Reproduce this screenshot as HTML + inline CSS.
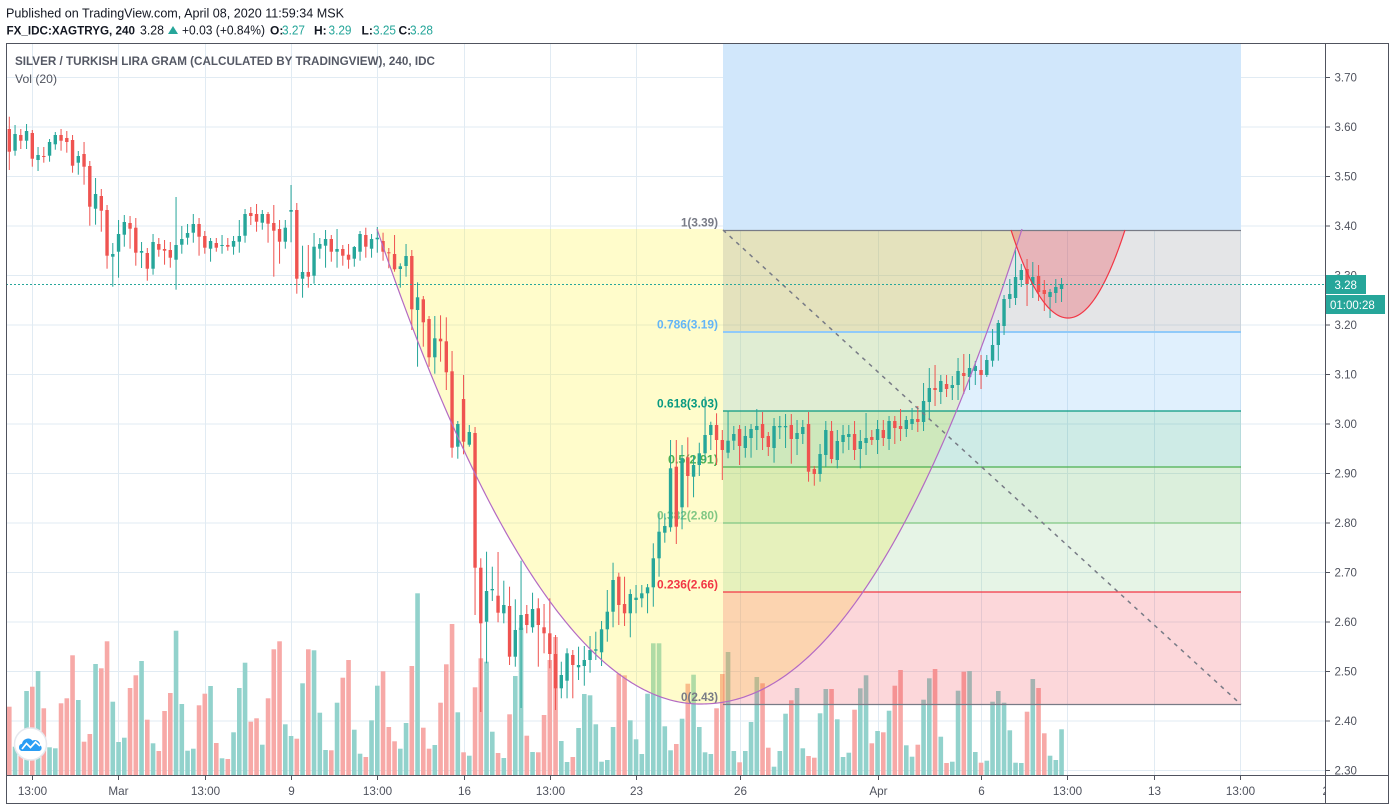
<!DOCTYPE html>
<html><head><meta charset="utf-8">
<style>
html,body{margin:0;padding:0;background:#fff;overflow:hidden;}
svg{display:block;font-family:"Liberation Sans",sans-serif;}
</style></head><body>
<svg id="s" width="1396" height="811" viewBox="0 0 1396 811" xmlns="http://www.w3.org/2000/svg">
<defs>
<clipPath id="pane"><rect x="6.5" y="43.5" width="1319" height="732"/></clipPath>
<clipPath id="tax"><rect x="6.5" y="776" width="1319" height="28"/></clipPath>
</defs>
<rect width="1396" height="811" fill="#fff"/>

<!-- header -->
<text x="6" y="17.5" font-size="12.5" fill="#131722" textLength="338" lengthAdjust="spacingAndGlyphs">Published on TradingView.com, April 08, 2020 11:59:34 MSK</text>
<text x="6.5" y="34.3" font-size="12" font-weight="bold" fill="#131722" textLength="128.5" lengthAdjust="spacingAndGlyphs">FX_IDC:XAGTRYG, 240</text>
<text x="140" y="34.3" font-size="12.5" fill="#131722" textLength="24" lengthAdjust="spacingAndGlyphs">3.28</text>
<polygon points="168,34 178,34 173,26" fill="#26a69a"/>
<text x="182" y="34.3" font-size="12.5" fill="#131722" textLength="83" lengthAdjust="spacingAndGlyphs">+0.03 (+0.84%)</text>
<text x="270" y="34.3" font-size="12" font-weight="bold" fill="#131722">O:</text>
<text x="282" y="34.3" font-size="12.5" fill="#26a69a" textLength="23" lengthAdjust="spacingAndGlyphs">3.27</text>
<text x="314" y="34.3" font-size="12" font-weight="bold" fill="#131722">H:</text>
<text x="328.5" y="34.3" font-size="12.5" fill="#26a69a" textLength="23" lengthAdjust="spacingAndGlyphs">3.29</text>
<text x="361.5" y="34.3" font-size="12" font-weight="bold" fill="#131722">L:</text>
<text x="373" y="34.3" font-size="12.5" fill="#26a69a" textLength="23" lengthAdjust="spacingAndGlyphs">3.25</text>
<text x="398.5" y="34.3" font-size="12" font-weight="bold" fill="#131722">C:</text>
<text x="410" y="34.3" font-size="12.5" fill="#26a69a" textLength="23" lengthAdjust="spacingAndGlyphs">3.28</text>

<!-- grid -->
<g stroke="#e1ebf3" stroke-width="1" clip-path="url(#pane)">
<line x1="6" x2="1325" y1="77.5" y2="77.5"/>
<line x1="6" x2="1325" y1="127" y2="127"/>
<line x1="6" x2="1325" y1="176.5" y2="176.5"/>
<line x1="6" x2="1325" y1="226" y2="226"/>
<line x1="6" x2="1325" y1="275.5" y2="275.5"/>
<line x1="6" x2="1325" y1="325" y2="325"/>
<line x1="6" x2="1325" y1="374.5" y2="374.5"/>
<line x1="6" x2="1325" y1="424" y2="424"/>
<line x1="6" x2="1325" y1="473.5" y2="473.5"/>
<line x1="6" x2="1325" y1="523" y2="523"/>
<line x1="6" x2="1325" y1="572.5" y2="572.5"/>
<line x1="6" x2="1325" y1="622" y2="622"/>
<line x1="6" x2="1325" y1="671.5" y2="671.5"/>
<line x1="6" x2="1325" y1="721" y2="721"/>
<line x1="6" x2="1325" y1="770.5" y2="770.5"/>
<line y1="43" y2="775" x1="32.5" x2="32.5"/>
<line y1="43" y2="775" x1="118.5" x2="118.5"/>
<line y1="43" y2="775" x1="205.5" x2="205.5"/>
<line y1="43" y2="775" x1="291.5" x2="291.5"/>
<line y1="43" y2="775" x1="377.5" x2="377.5"/>
<line y1="43" y2="775" x1="464.5" x2="464.5"/>
<line y1="43" y2="775" x1="550.5" x2="550.5"/>
<line y1="43" y2="775" x1="636.5" x2="636.5"/>
<line y1="43" y2="775" x1="740.5" x2="740.5"/>
<line y1="43" y2="775" x1="878.5" x2="878.5"/>
<line y1="43" y2="775" x1="981.5" x2="981.5"/>
<line y1="43" y2="775" x1="1067.5" x2="1067.5"/>
<line y1="43" y2="775" x1="1154.5" x2="1154.5"/>
<line y1="43" y2="775" x1="1240.5" x2="1240.5"/>
</g>

<!-- title legend -->
<text x="15" y="65" font-size="11.6" font-weight="bold" fill="#555965" textLength="420" lengthAdjust="spacingAndGlyphs">SILVER / TURKISH LIRA GRAM (CALCULATED BY TRADINGVIEW), 240, IDC</text>
<text x="15" y="83" font-size="12" fill="#50535e" textLength="42" lengthAdjust="spacingAndGlyphs">Vol (20)</text>

<g id="vol" clip-path="url(#pane)"></g>

<g clip-path="url(#pane)">
<path id="yfill" d="" fill="rgba(255,245,59,0.265)"/>
<rect x="723" y="43" width="518" height="187" fill="#d1e7fb"/>
<rect x="723" y="230" width="518" height="102" fill="rgba(120,123,134,0.2)"/>
<rect x="723" y="332" width="518" height="79" fill="rgba(100,181,246,0.2)"/>
<rect x="723" y="411" width="518" height="56" fill="rgba(8,153,129,0.2)"/>
<rect x="723" y="467" width="518" height="56" fill="rgba(76,175,80,0.2)"/>
<rect x="723" y="523" width="518" height="69" fill="rgba(129,199,132,0.2)"/>
<rect x="723" y="592" width="518" height="112.5" fill="rgba(242,54,69,0.2)"/>
<path id="rfill" d="" fill="rgba(242,54,69,0.28)"/>
<line x1="723" x2="1241" y1="230.5" y2="230.5" stroke="#787b86" stroke-width="1.2"/>
<line x1="723" x2="1241" y1="332" y2="332" stroke="#90caf9" stroke-width="2"/>
<line x1="723" x2="1241" y1="411" y2="411" stroke="#089981" stroke-width="1.2"/>
<line x1="723" x2="1241" y1="467" y2="467" stroke="#4caf50" stroke-width="1.2"/>
<line x1="723" x2="1241" y1="523" y2="523" stroke="#81c784" stroke-width="1.2"/>
<line x1="723" x2="1241" y1="592" y2="592" stroke="#f23645" stroke-width="1.2"/>
<line x1="723" x2="1241" y1="704.5" y2="704.5" stroke="#787b86" stroke-width="1.2"/>
</g>

<g font-size="11.5" font-weight="bold" text-anchor="end">
<text x="718" y="226.5" fill="#787b86" textLength="37" lengthAdjust="spacingAndGlyphs">1(3.39)</text>
<text x="718" y="328.5" fill="#64b5f6" textLength="61" lengthAdjust="spacingAndGlyphs">0.786(3.19)</text>
<text x="718" y="407.5" fill="#089981" textLength="61" lengthAdjust="spacingAndGlyphs">0.618(3.03)</text>
<text x="718" y="463.5" fill="#4caf50" textLength="50" lengthAdjust="spacingAndGlyphs">0.5(2.91)</text>
<text x="718" y="519.5" fill="#81c784" textLength="61" lengthAdjust="spacingAndGlyphs">0.382(2.80)</text>
<text x="718" y="588.5" fill="#f23645" textLength="61" lengthAdjust="spacingAndGlyphs">0.236(2.66)</text>
<text x="718" y="701" fill="#787b86" textLength="37" lengthAdjust="spacingAndGlyphs">0(2.43)</text>
</g>

<g id="candles" clip-path="url(#pane)"></g>

<g clip-path="url(#pane)">
<path id="ystroke" d="" fill="none" stroke="#b36ac4" stroke-width="1.2"/>
<path id="rstroke" d="" fill="none" stroke="#f23645" stroke-width="1.2"/>
<line x1="723" y1="230" x2="1241" y2="704.5" stroke="#787b86" stroke-width="1.5" stroke-dasharray="4,5"/>
<line x1="6" x2="1325" y1="284.5" y2="284.5" stroke="#26a69a" stroke-width="1" stroke-dasharray="2,2"/>
</g>

<!-- logo -->
<circle cx="30.5" cy="744" r="16" fill="#fff" stroke="#e6e8ee" stroke-width="1.5"/>
<path d="M21.5,751 a3.8,3.8 0 0 1 0.5,-7.3 a6,6 0 0 1 10.5,-3 a5,5 0 0 1 7.5,4.5 a3.2,3.2 0 0 1 -0.5,5.8 Z" fill="#2a9df4"/>
<polyline points="22,749 26.5,743.5 30.5,747.5 35.5,742 40,746" fill="none" stroke="#fff" stroke-width="1.7"/>

<!-- frame -->
<g stroke="#50535e" stroke-width="1" fill="none">
<rect x="6.5" y="43.5" width="1382" height="760"/>
<line x1="1325.5" x2="1325.5" y1="43.5" y2="803.5"/>
<line x1="6.5" x2="1388.5" y1="775.5" y2="775.5"/>
</g>

<!-- price axis -->
<g stroke="#50535e" stroke-width="1">
<line x1="1325" x2="1330" y1="77.5" y2="77.5"/>
<line x1="1325" x2="1330" y1="127" y2="127"/>
<line x1="1325" x2="1330" y1="176.5" y2="176.5"/>
<line x1="1325" x2="1330" y1="226" y2="226"/>
<line x1="1325" x2="1330" y1="275.5" y2="275.5"/>
<line x1="1325" x2="1330" y1="325" y2="325"/>
<line x1="1325" x2="1330" y1="374.5" y2="374.5"/>
<line x1="1325" x2="1330" y1="424" y2="424"/>
<line x1="1325" x2="1330" y1="473.5" y2="473.5"/>
<line x1="1325" x2="1330" y1="523" y2="523"/>
<line x1="1325" x2="1330" y1="572.5" y2="572.5"/>
<line x1="1325" x2="1330" y1="622" y2="622"/>
<line x1="1325" x2="1330" y1="671.5" y2="671.5"/>
<line x1="1325" x2="1330" y1="721" y2="721"/>
<line x1="1325" x2="1330" y1="770.5" y2="770.5"/>
</g>
<g font-size="11.5" fill="#50535e">
<text x="1334.5" y="81.5">3.70</text>
<text x="1334.5" y="131">3.60</text>
<text x="1334.5" y="180.5">3.50</text>
<text x="1334.5" y="230">3.40</text>
<text x="1334.5" y="279.5">3.30</text>
<text x="1334.5" y="329">3.20</text>
<text x="1334.5" y="378.5">3.10</text>
<text x="1334.5" y="428">3.00</text>
<text x="1334.5" y="477.5">2.90</text>
<text x="1334.5" y="527">2.80</text>
<text x="1334.5" y="576.5">2.70</text>
<text x="1334.5" y="626">2.60</text>
<text x="1334.5" y="675.5">2.50</text>
<text x="1334.5" y="725">2.40</text>
<text x="1334.5" y="774.5">2.30</text>
</g>
<rect x="1326" y="275" width="40" height="19" fill="#26a69a"/>
<text x="1334.5" y="289" font-size="11.5" fill="#fff">3.28</text>
<rect x="1326" y="295" width="59" height="19" fill="#26a69a"/>
<text x="1330" y="309" font-size="11.5" fill="#fff">01:00:28</text>

<!-- time axis -->
<g stroke="#50535e" stroke-width="1">
<line x1="32.5" x2="32.5" y1="775" y2="780"/>
<line x1="118.5" x2="118.5" y1="775" y2="780"/>
<line x1="205.5" x2="205.5" y1="775" y2="780"/>
<line x1="291.5" x2="291.5" y1="775" y2="780"/>
<line x1="377.5" x2="377.5" y1="775" y2="780"/>
<line x1="464.5" x2="464.5" y1="775" y2="780"/>
<line x1="550.5" x2="550.5" y1="775" y2="780"/>
<line x1="636.5" x2="636.5" y1="775" y2="780"/>
<line x1="740.5" x2="740.5" y1="775" y2="780"/>
<line x1="878.5" x2="878.5" y1="775" y2="780"/>
<line x1="981.5" x2="981.5" y1="775" y2="780"/>
<line x1="1067.5" x2="1067.5" y1="775" y2="780"/>
<line x1="1154.5" x2="1154.5" y1="775" y2="780"/>
<line x1="1240.5" x2="1240.5" y1="775" y2="780"/>
</g>
<g font-size="11.7" fill="#50535e" text-anchor="middle" clip-path="url(#tax)">
<text x="32.5" y="795">13:00</text>
<text x="118.5" y="795">Mar</text>
<text x="205.5" y="795">13:00</text>
<text x="291.5" y="795">9</text>
<text x="377.5" y="795">13:00</text>
<text x="464.5" y="795">16</text>
<text x="550.5" y="795">13:00</text>
<text x="636.5" y="795">23</text>
<text x="740.5" y="795">26</text>
<text x="878.5" y="795">Apr</text>
<text x="981.5" y="795">6</text>
<text x="1067.5" y="795">13:00</text>
<text x="1154.5" y="795">13</text>
<text x="1240.5" y="795">13:00</text>
<text x="1329" y="795">20</text>
</g>
</svg>
<script>
(function(){
var C=[['r',129,151.7,116.7,170],['g',134,150.7,125,155.7],['r',135,140.7,129,149],['g',131,140.7,124,149],['r',133,158.7,130,166.7],['g',155,160,147,171],['r',156,157,147,162.7],['g',142,155.7,139,161.7],['g',135,144.3,132,149.7],['r',135,140.7,129,150.7],
['r',138,142,131,152.7],['r',140,165.7,135,172.7],['g',156,162.7,151,174.7],['r',154,166.7,142,184.7],['r',166,206.7,161,225.7],['g',194,208.7,178,224.7],['r',196,210.7,189,231.7],['r',210,255.7,205,268.7],['g',254,256.7,243,286.7],['g',234,251.7,220,277.7],
['g',222,234.7,215,246.7],['r',223,228.7,216,248.7],['r',227.7,252.7,218,265.7],['g',251,252.7,242,268],['r',253,268.7,248,280.7],['g',242,268.7,234,274.7],['r',244,249.7,238,256.7],['r',249,250.7,240,264.7],['r',250,257.7,242,267.7],['g',245,259.7,197,289.7],
['g',239,244.7,226,253.7],['g',233,237.7,224,244.7],['g',224,232.7,214,242.7],['r',224,236.7,218,255.7],['r',236,247.7,231,253.7],['g',241,248.7,238,261.7],['r',243,247.7,238,251.7],['g',245,245.7,235,253.7],['r',245,246.7,238,250.7],['g',241,246.7,236,254.7],
['g',236,241.7,220,252.7],['g',214,235.7,209,242.7],['r',213,216,207,225],['r',214,221.7,204,231.7],['g',214,222.7,210,229.7],['r',214,223.7,212,242.7],['r',223,230.7,205,276.7],['r',229,241.7,220,263.7],['g',227.7,241.7,220,248.7],['g',210,211.7,185,242.3],
['r',210,278.7,203,293.7],['g',272,278.7,245.7,297.7],['r',272,276.7,245,287.7],['g',246.7,275.7,233,283.7],['g',244,248.7,238,258.7],['g',239,245.7,230,267.7],['r',239,251.7,235,261.7],['g',249,251.7,229,267.7],['r',249,255.7,245,265.7],['r',254.7,259.7,244,268.7],
['g',247,258.7,246,266.7],['g',234,251.7,231,260.7],['r',235,246.7,227.7,257.7],['g',239,248.7,234,257.7],['g',237.7,239.3,227,252.7],['r',241,251.7,232.7,260.7],['r',252.3,253.3,248,268.3],['r',254,269.3,235,271.7],['g',266.3,269,263.3,287.7],['g',256,266,244,276.7],
['r',256,309.3,250,330],['g',297.3,310,282.3,366.7],['r',299.3,322.3,296,346.7],['r',319,357.3,316,366.7],['g',338.3,357.3,316,373.7],['r',338.7,341.3,315.3,361.7],['r',341.3,372.3,317.3,390],['r',371.3,447.7,351,457.7],['g',424,446.7,421,458.7],['r',399,441.7,375,454.3],
['g',432,444.7,425,446.7],['r',433,567.7,427,615],['r',567.7,623.3,558.3,712],['g',591,621.7,551.7,663.3],['g',589,590.3,566.7,601],['r',595.7,612.7,552,622.3],['g',605,613.3,580.7,623.3],['r',606,656.7,586.7,665],['g',630,656.7,599.3,666.7],['g',615,630,560.7,708],
['r',614,625,605,633.3],['g',609,627.3,592.7,632.7],['r',608.3,625,598.3,666.7],['r',627.3,633.3,604,653.3],['r',633.3,654,598.3,668.3],['r',654,688.3,635,710],['g',675,688.3,661.7,698.3],['g',653.3,680.7,648.3,698.3],['r',655,665,650,698.3],['g',665,667.3,646.7,680],
['g',660,666,646,685.7],['g',650,660,636,672.7],['g',649.3,650.7,631.7,660],['g',629.3,652.3,621,666],['g',611.7,629.3,590,641.7],['g',580,611.7,562.7,627.3],['r',576.7,605,572.7,625],['r',604,613.3,576.7,626],['g',594,613.3,589.3,637.3],['g',597.7,600,585,613.3],
['g',593.3,598.3,585,607.3],['g',587.3,593.3,584,613.3],['g',558.3,587.3,543.3,606.7],['g',531.7,558.3,513.3,576.7],['g',526,532.7,513.3,542.7],['g',468.3,527.3,440,531.7],['r',466.7,526.7,440,544],['g',458.3,507.3,445,529.3],['r',457.3,476,437.3,507.3],['g',465,476.7,455,497.3],
['g',453.3,465,442.7,476],['g',435,453.3,396.7,461.7],['g',425,435,421.7,450],['r',425,440,413.3,465],['r',440,450,430,480],['g',440.7,452.7,410.7,458.3],['g',434,440.7,426,450],['r',429,446,425,465],['g',436,448,426,457.7],['g',429,438,424,457.7],
['g',426,430,409,450],['r',424,438,412,450],['r',436,447,432,456],['g',426,448,418,462.7],['g',426,427.3,416,439],['g',426,427.3,414,448],['r',425,439,414,463.7],['g',433,439,420,455],['g',427,434,420,444],['r',424,471.7,412,481.7],
['r',469,474,466,485.7],['g',454,474,444,481.7],['g',430,455,421,466.7],['r',431,459,421,463.3],['g',441,460,430,468.3],['g',435,442,425,453.3],['g',434,437,425,450],['r',434,450,421,460],['g',441,449,430,468.3],['g',438,443,413,455],
['r',437,440,430,445],['g',429,440,420,454],['r',430,438,420,446],['g',421,439,416,450],['r',421,428,416,444],['r',426,429,409,441],['g',420,429,416,437],['g',419,424,408,430],['r',419,422,406,432],['g',401,422,383,431],
['g',388,402,368,420],['r',388,390,365,406],['g',381,392,375,404],['r',384,389,375,397],['g',385,388,376,400],['g',371,385,358,400],['r',373,376,354,394],['g',368,377,354,390],['g',366,371,361,385],['r',370,375,355,389],
['g',360,375,355,377],['g',345,360.7,329,366.7],['g',323,345,320,360.7],['g',299,326,295,335],['g',294,299,279,308],['g',277,298,250,305],['g',270,280,264,287],['r',269,284,259,306],['g',277,284,262,298],['r',276,292,265,301],
['r',290,294,280,311],['g',292,297,289,318],['g',287,293,279,303],['g',284,289,278,302]];
var V=[706.7,746.7,740,691,686.7,671,708.3,747.3,748.3,703.3,698.3,655.3,700,741.7,734,664,668.3,641.3,701.7,742,
737.7,688,675.3,661,719.7,743.3,751,711,693,630.7,704,750.7,748.7,705.3,693.7,686,743,758.3,759,732.3,
688,662.7,721.7,718.3,744.7,698.3,649.3,641.3,724.3,736,738.7,683.3,649.3,650.3,712.7,750,750.3,702.7,677.7,660,
729.7,753.7,757,720.3,685.7,671.3,727,741.3,748.7,723,666,593.3,727.7,748.7,745,702.7,664.3,624,712.3,752.3,
755.7,687.3,658.3,661.7,731.7,753,758,714.3,676,627.7,735.7,752,752.3,715,660,637,741,762,757,728,
694,695.3,724.3,761.7,760,727,673.7,675.3,720.3,739.3,754,693.7,643.3,643.3,726.3,750.3,744,718.7,683.7,674.7,
727,752.3,754,708.3,674,652,751,762.3,751,722,677,683.3,747.7,766.7,751,713.7,700.3,688,748.3,756,
757.7,713.3,689,689,719.3,757,752.7,709.7,688.3,675.3,743.3,731,732.3,710.7,685.7,670,745.3,756.7,744.7,699.7,
678.3,669,736.7,763,761.7,690.7,671.7,671,752,762.7,760.7,701.7,691,702.7,730.3,762.7,763,711.7,679,688,
733.3,755.7,760,729.3];
var ns='http://www.w3.org/2000/svg';
function el(t,a,p){var e=document.createElementNS(ns,t);for(var k in a)e.setAttribute(k,a[k]);p.appendChild(e);return e;}
var gv=document.getElementById('vol'),gc=document.getElementById('candles');
for(var i=0;i<C.length;i++){
 var c=C[i],x=9.3+5.75*i,up=c[0]==='g';
 var vy=V[i];
 el('rect',{x:(x-2.3).toFixed(2),y:vy,width:4.6,height:(775-vy).toFixed(2),fill:up?'#92d2cc':'#f7a9a7'},gv);
 var col=up?'#26a69a':'#ef5350';
 el('rect',{x:(x-0.5).toFixed(2),y:c[3],width:1,height:(c[4]-c[3]).toFixed(2),fill:col},gc);
 el('rect',{x:(x-1.7).toFixed(2),y:c[1],width:3.4,height:Math.max(1,c[2]-c[1]).toFixed(2),fill:col},gc);
}
var d='M377,229';
for(var X=378;X<=700;X+=2){var u=(700-X)/323;d+=' L'+X+','+(704-475*u*u).toFixed(2);}
for(var X2=702;X2<=1022;X2+=2){var u2=(X2-700)/322;d+=' L'+X2+','+(704-475*Math.pow(u2,2.12)).toFixed(2);}
document.getElementById('yfill').setAttribute('d',d+' Z');
document.getElementById('ystroke').setAttribute('d',d);
var a='M1011,230';
for(var X3=1012;X3<=1125;X3+=1){var u3=(X3-1068)/57;a+=' L'+X3+','+(318-88*u3*u3).toFixed(2);}
document.getElementById('rfill').setAttribute('d',a+' Z');
document.getElementById('rstroke').setAttribute('d',a);
})();
</script>
</body></html>
